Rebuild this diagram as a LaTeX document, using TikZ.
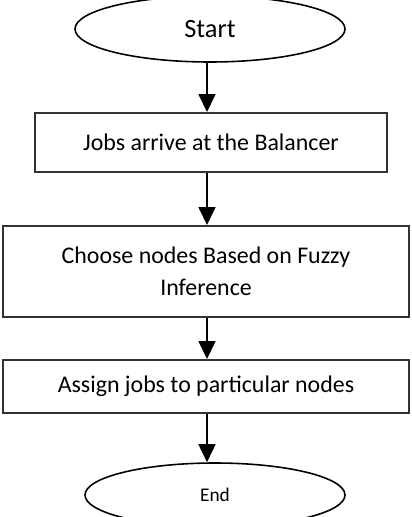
\documentclass[tikz,border=0pt]{standalone}
\usepackage{fontspec}
\setmainfont{Carlito}
\usetikzlibrary{arrows.meta,shapes.geometric}
\definecolor{edge}{HTML}{333333}

\begin{document}
\begin{tikzpicture}[font=\fontsize{13.6}{18.2}\selectfont,
  stepbox/.style={draw=edge,line width=1.1pt,align=center,inner sep=0pt},
  terminal/.style={draw,ellipse,line width=0.9pt,inner sep=0pt},
  flow/.style={line width=0.9pt,-{Triangle[length=3.6mm,width=3.4mm]}}]
\useasboundingbox (0,0) rectangle (8.24,-10.34);
\coordinate (axis) at (4.14,0);
\node[terminal,minimum width=5.4cm,minimum height=1.32cm,
  font=\fontsize{15}{16}\selectfont] (start) at (4.20,-0.58) {Start};
\node[stepbox,minimum width=7.04cm,minimum height=1.18cm] (jobs) at (4.22,-2.85)
  {Jobs arrive at the Balancer};
\node[stepbox,minimum width=8.12cm,minimum height=1.82cm] (choose) at (4.12,-5.43)
  {Choose nodes Based on Fuzzy\\Inference};
\node[stepbox,minimum width=8.12cm,minimum height=1.06cm] (assign) at (4.12,-7.73)
  {Assign jobs to particular nodes};
\node[terminal,minimum width=5.2cm,minimum height=1.28cm,
  font=\fontsize{11}{12}\selectfont] (end) at (4.30,-9.90) {End};
\draw[flow] (start.south -| axis) -- (jobs.north -| axis);
\draw[flow] (jobs.south -| axis) -- (choose.north -| axis);
\draw[flow] (choose.south -| axis) -- (assign.north -| axis);
\draw[flow] (assign.south -| axis) -- (end.north -| axis);
\end{tikzpicture}
\end{document}
